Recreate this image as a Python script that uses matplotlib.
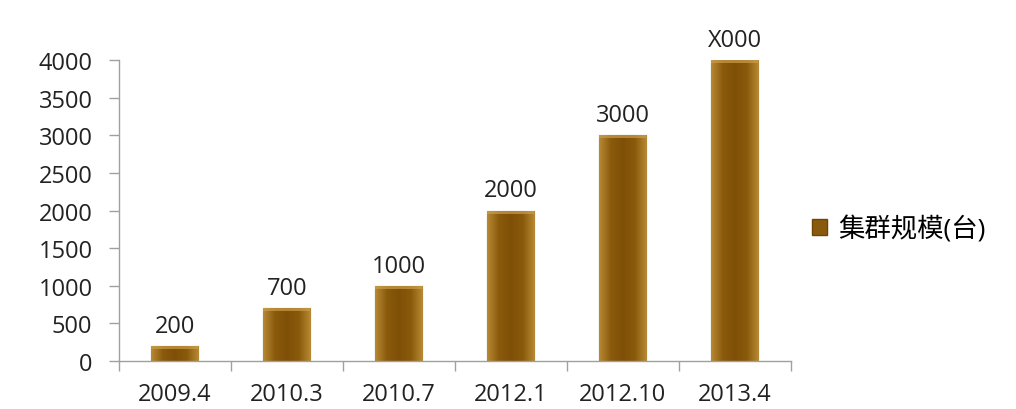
import numpy as np
import matplotlib.pyplot as plt
from matplotlib.colors import LinearSegmentedColormap
from matplotlib.patches import Patch

plt.rcParams['font.family'] = ['Open Sans', 'Noto Sans CJK SC', 'DejaVu Sans']

categories = ['2009.4', '2010.3', '2010.7', '2012.1', '2012.10', '2013.4']
values = [200, 700, 1000, 2000, 3000, 4000]
bar_labels = ['200', '700', '1000', '2000', '3000', 'X000']
series_name = '集群规模(台)'

fig = plt.figure(figsize=(10.16, 4.10), dpi=100)
ax = fig.add_axes([0.117, 0.117, 0.6615, 0.734])

x = np.arange(len(categories))
bars = ax.bar(x, values, width=0.42, color='#8a5a0c', edgecolor='#6e4504', linewidth=0.8, zorder=2)

# horizontal gradient on each bar (lighter edges, darker middle)
cmap = LinearSegmentedColormap.from_list('brown', ['#b98a34', '#8a5a0c', '#7e5006', '#8a5a0c', '#b98a34'])
grad = np.linspace(0, 1, 256).reshape(1, -1)
for b in bars:
    x0, w, h = b.get_x(), b.get_width(), b.get_height()
    im = ax.imshow(grad, cmap=cmap, aspect='auto', extent=[x0, x0 + w, 0, h], zorder=2.5)
    im.set_clip_path(b)
    # lighter top bevel
    ax.fill_between([x0, x0 + w], h - 40, h, color='#c99e4c', alpha=0.7, zorder=2.6, linewidth=0)

for xi, v, lab in zip(x, values, bar_labels):
    ax.text(xi, v + 110, lab, ha='center', va='bottom', fontsize=17, color='#222222')

ax.set_xlim(-0.5, len(categories) - 0.5)
ax.set_ylim(0, 4000)
ax.set_yticks(range(0, 4001, 500))
ax.set_xticks(x)
ax.set_xticklabels(categories, fontsize=17, color='#222222')
ax.set_xticks(np.arange(-0.5, len(categories)), minor=True)
ax.tick_params(axis='x', which='major', length=0, pad=15)
ax.tick_params(axis='x', which='minor', length=7, color='#a0a0a0', width=1)
ax.tick_params(axis='y', length=7, color='#a0a0a0', width=1, labelsize=17, labelcolor='#222222', pad=12)

for s in ['top', 'right']:
    ax.spines[s].set_visible(False)
for s in ['left', 'bottom']:
    ax.spines[s].set_color('#a0a0a0')
    ax.spines[s].set_linewidth(1)

handle = Patch(facecolor='#8a5a0c', edgecolor='#6e4504', label=series_name)
fig.legend(handles=[handle], loc='center left', bbox_to_anchor=(0.776, 0.44), frameon=False,
           fontsize=19, handlelength=0.55, handleheight=0.55, handletextpad=0.45)

fig.savefig('out.png', dpi=100)
